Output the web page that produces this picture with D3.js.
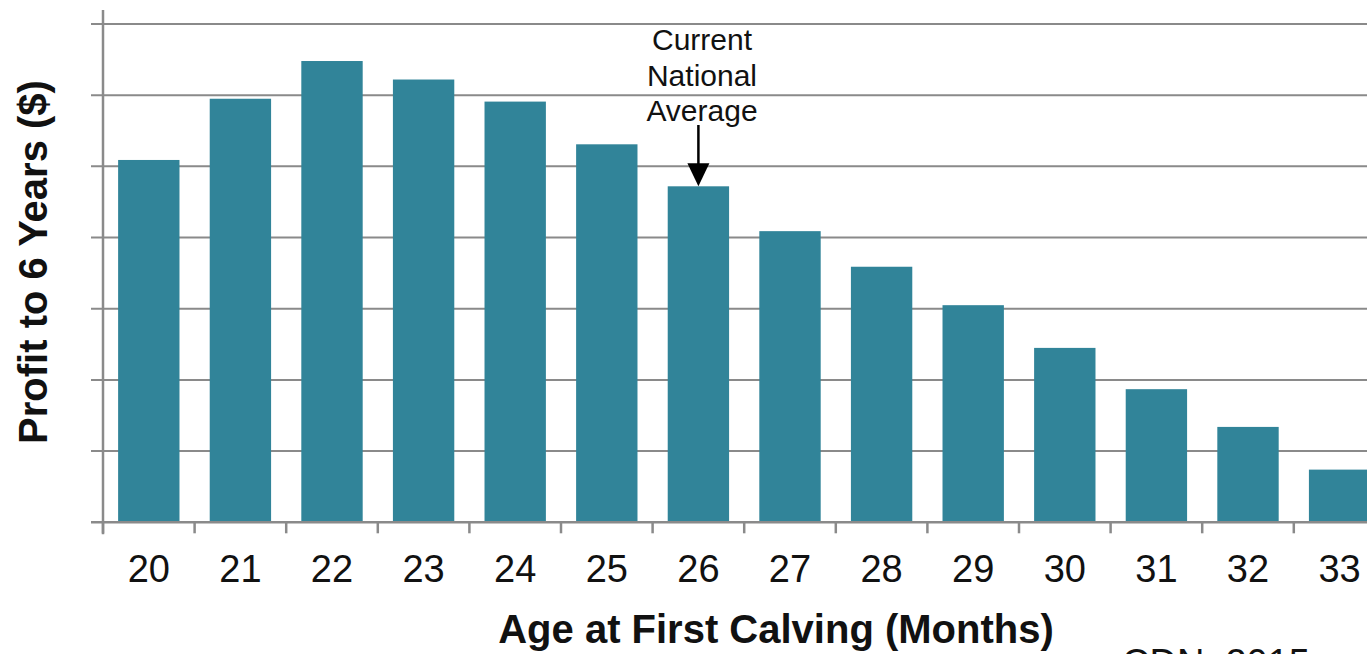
<!DOCTYPE html>
<html>
<head>
<meta charset="utf-8">
<script src="https://cdn.jsdelivr.net/npm/d3@7"></script>
<style>
  html, body { margin: 0; padding: 0; background: #fff; overflow: hidden; }
  svg { display: block; font-family: "Liberation Sans", Arial, sans-serif; }
</style>
</head>
<body>
<svg id="chart" width="1367" height="654"></svg>
<script>
// Data (relative profit, in gridline units — the source has no y tick labels)
const categories = ["20","21","22","23","24","25","26","27","28","29","30","31","32","33"];
const profit = [5.09, 5.95, 6.48, 6.22, 5.91, 5.31, 4.72, 4.09, 3.59, 3.05, 2.45, 1.87, 1.34, 0.74];
const yGridValues = [0, 1, 2, 3, 4, 5, 6, 7];
const annotationCategory = "26";
const annotationLines = ["Current", "National", "Average"];
const xTitle = "Age at First Calving (Months)";
const yTitle = "Profit to 6 Years ($)";
const sourceNote = "CDN, 2015";

const svg = d3.select("#chart");
const left = 103, baseY = 522.3, topY = 24;
const step = 91.6;
const right = left + step * categories.length;

const x = d3.scaleBand().domain(categories).range([left, right])
  .paddingInner(0.33).paddingOuter(0.165);
const y = d3.scaleLinear().domain([0, 7]).range([baseY, topY]);

const gridColor = "#8a8a8a";

// Gridlines + left ticks
svg.append("g").selectAll("line").data(yGridValues.slice(1)).join("line")
  .attr("x1", left - 12).attr("x2", 1367)
  .attr("y1", d => y(d)).attr("y2", d => y(d))
  .attr("stroke", gridColor).attr("stroke-width", 2);

// Bars
svg.append("g").selectAll("rect").data(categories).join("rect")
  .attr("x", d => x(d))
  .attr("width", x.bandwidth())
  .attr("y", (d, i) => y(profit[i]))
  .attr("height", (d, i) => y(0) - y(profit[i]))
  .attr("fill", "#318499");

// Y axis line
svg.append("line").attr("x1", left).attr("x2", left)
  .attr("y1", 10).attr("y2", baseY + 12)
  .attr("stroke", gridColor).attr("stroke-width", 2.5);

// X axis baseline
svg.append("line").attr("x1", left - 12).attr("x2", 1367)
  .attr("y1", baseY).attr("y2", baseY)
  .attr("stroke", gridColor).attr("stroke-width", 2.5);

// X tick marks at band boundaries
const boundaries = categories.map(c => x(c) - (x.step() - x.bandwidth()) / 2);
svg.append("g").selectAll("line").data(boundaries).join("line")
  .attr("x1", d => d).attr("x2", d => d)
  .attr("y1", baseY).attr("y2", baseY + 11)
  .attr("stroke", gridColor).attr("stroke-width", 2.5);

// X tick labels via d3 axis
const xAxis = d3.axisBottom(x).tickSize(0).tickPadding(0);
const gx = svg.append("g").attr("transform", `translate(0,${582 - 29})`).call(xAxis);
gx.select(".domain").remove();
gx.selectAll("text")
  .attr("dy", null).attr("y", 29)
  .attr("font-size", 38).attr("font-family", "Liberation Sans, Arial, sans-serif")
  .attr("fill", "#111");

// Axis titles
svg.append("text").attr("x", 776).attr("y", 643)
  .attr("text-anchor", "middle").attr("font-size", 40).attr("font-weight", "bold")
  .attr("fill", "#111").text(xTitle);

svg.append("text")
  .attr("transform", "translate(47,262) rotate(-90)")
  .attr("text-anchor", "middle").attr("font-size", 40).attr("font-weight", "bold")
  .attr("fill", "#111").text(yTitle);

// Annotation
const ai = categories.indexOf(annotationCategory);
const ax = x(annotationCategory) + x.bandwidth() / 2;
svg.append("g").selectAll("text").data(annotationLines).join("text")
  .attr("x", 702).attr("y", (d, i) => 50 + i * 35.5)
  .attr("text-anchor", "middle").attr("font-size", 30).attr("fill", "#111")
  .text(d => d);
const tipY = y(profit[ai]);
svg.append("line").attr("x1", ax).attr("x2", ax)
  .attr("y1", 125).attr("y2", tipY - 20)
  .attr("stroke", "#000").attr("stroke-width", 2.5);
svg.append("path")
  .attr("d", `M${ax - 11},${tipY - 23} L${ax + 11},${tipY - 23} L${ax},${tipY} Z`)
  .attr("fill", "#000");

// Source note (cut off at bottom, as in the reference)
svg.append("text").attr("x", 1122).attr("y", 676)
  .attr("font-size", 38).attr("fill", "#111").text(sourceNote);
</script>
</body>
</html>
